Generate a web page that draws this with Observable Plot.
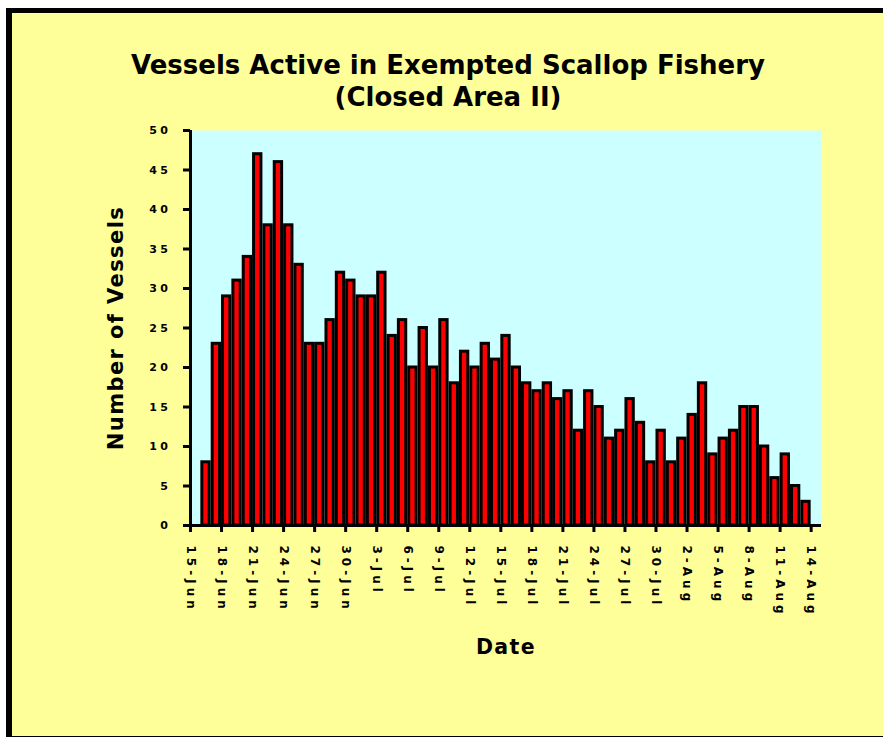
<!DOCTYPE html>
<html>
<head>
<meta charset="utf-8">
<script src="https://cdn.jsdelivr.net/npm/d3@7"></script>
<script src="https://cdn.jsdelivr.net/npm/@observablehq/plot@0.6"></script>
<style>
  body { margin: 0; background: #ffffff; }
  #wrap { position: relative; width: 883px; height: 737px; overflow: hidden; font-family: "DejaVu Sans", sans-serif; }
  #frame { position: absolute; left: 6px; top: 8px; width: 900px; height: 729px; box-sizing: border-box;
           border-top: 5px solid #000; border-left: 6px solid #000; border-bottom: 1px solid #000; background: #FFFF99; }
  #title { position: absolute; left: 0; top: 49px; width: 896px; text-align: center; font-weight: bold;
           font-size: 26px; line-height: 32px; color: #000; }
  #chart { position: absolute; left: 0; top: 0; }
  #chart svg { overflow: visible; }
  g[aria-label="x-axis tick label"] text { letter-spacing: 4px; font-weight: bold; }
  g[aria-label="y-axis tick label"] text { letter-spacing: 3.5px; font-weight: bold; }
  g[aria-label="text"] text { letter-spacing: 1.4px; }
</style>
</head>
<body>
<div id="wrap">
  <div id="frame"></div>
  <div id="chart"></div>
  <div id="title"></div>
</div>
<script>
// ---- data ----
const titleLines = ["Vessels Active in Exempted Scallop Fishery", "(Closed Area II)"];
const yTitle = "Number of Vessels";
const xTitle = "Date";
const firstDay = "15-Jun";
const year = "1999";
// daily counts, 15-Jun through 14-Aug
const vessels = [0, 8, 23, 29, 31, 34, 47, 38, 46, 38, 33,
                 23, 23, 26, 32, 31, 29, 29, 32, 24, 26,
                 20, 25, 20, 26, 18, 22, 20, 23, 21, 24,
                 20, 18, 17, 18, 16, 17, 12, 17, 15, 11,
                 12, 16, 13, 8, 12, 8, 11, 14, 18, 9,
                 11, 12, 15, 15, 10, 6, 9, 5, 3, 0];
const xTickLabels = ["15-Jun", "18-Jun", "21-Jun", "24-Jun", "27-Jun", "30-Jun", "3-Jul", "6-Jul", "9-Jul",
                     "12-Jul", "15-Jul", "18-Jul", "21-Jul", "24-Jul", "27-Jul", "30-Jul", "2-Aug", "5-Aug",
                     "8-Aug", "11-Aug", "14-Aug"];
const yTicks = [0, 5, 10, 15, 20, 25, 30, 35, 40, 45, 50];

// ---- build ----
document.getElementById("title").innerHTML = titleLines.join("<br>");
const parse = d3.utcParse("%d-%b-%Y");
const start = parse(firstDay + "-" + year);
const data = vessels.map((v, i) => ({date: d3.utcDay.offset(start, i), v}));
const tickDates = xTickLabels.map(s => parse(s + "-" + year));
const labelByTime = new Map(tickDates.map((d, i) => [+d, xTickLabels[i]]));

const chart = Plot.plot({
  width: 883,
  height: 737,
  marginLeft: 190,
  marginRight: 62,
  marginTop: 130,
  marginBottom: 212,
  style: {background: "transparent", fontFamily: "DejaVu Sans", color: "#000", overflow: "visible"},
  x: {type: "utc", domain: [start, d3.utcDay.offset(start, vessels.length)]},
  y: {domain: [0, 50]},
  marks: [
    Plot.frame({fill: "#CCFFFF", stroke: null}),
    Plot.rectY(data, {
      x1: "date",
      x2: d => d3.utcDay.offset(d.date, 1),
      y: "v",
      fill: "#FF0000",
      stroke: "#000",
      strokeWidth: 3,
      insetLeft: 1.5,
      insetRight: 1.5
    }),
    Plot.axisY({ticks: yTicks, tickSize: 7, tickPadding: 12, strokeWidth: 3, fontSize: 11, label: null}),
    Plot.axisX({ticks: tickDates, tickFormat: d => labelByTime.get(+d), tickRotate: 90,
                tickSize: 7, tickPadding: 13, strokeWidth: 3, fontSize: 12, label: null}),
    Plot.ruleX([start], {strokeWidth: 3}),
    Plot.ruleY([0], {strokeWidth: 3}),
    Plot.text([yTitle], {text: d => d, frameAnchor: "left", textAnchor: "middle", dx: -74, rotate: -90,
                         fontSize: 21, fontWeight: "bold"}),
    Plot.text([xTitle], {text: d => d, frameAnchor: "bottom", dy: 128, fontSize: 20.5, fontWeight: "bold"})
  ]
});
document.getElementById("chart").appendChild(chart);
</script>
</body>
</html>
